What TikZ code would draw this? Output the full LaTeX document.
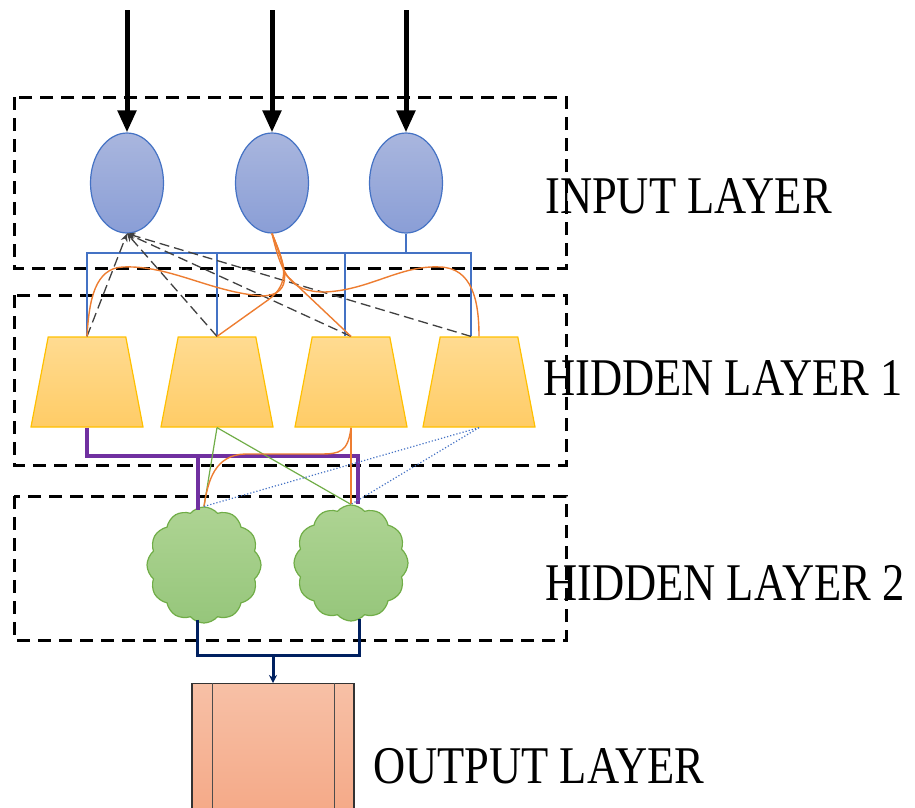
\documentclass[tikz,border=0pt]{standalone}
\usepackage{fontspec}
\newfontfamily\labelfont[FakeStretch=0.84]{Liberation Serif}
\usetikzlibrary{shapes.geometric,shapes.symbols,arrows.meta,calc}
\definecolor{inblue}{HTML}{4472C4}
\definecolor{intop}{HTML}{A9B6DE}
\definecolor{inbot}{HTML}{8A9ED6}
\definecolor{hidgold}{HTML}{FFC000}
\definecolor{hidtop}{HTML}{FFDB91}
\definecolor{hidbot}{HTML}{FFCC66}
\definecolor{cldgreen}{HTML}{70AD47}
\definecolor{cldtop}{HTML}{AED493}
\definecolor{cldbot}{HTML}{96C67B}
\definecolor{outtop}{HTML}{F7C0A6}
\definecolor{outbot}{HTML}{F4A27E}
\definecolor{linkorange}{HTML}{ED7D31}
\definecolor{linkpurple}{HTML}{7030A0}
\definecolor{linknavy}{HTML}{002060}

\begin{document}
\begin{tikzpicture}[x=1pt,y=-1pt,
  layerbox/.style={draw=black,line width=3pt,dash pattern=on 13pt off 8pt},
  inneuron/.style={ellipse,draw=inblue,line width=1.2pt,top color=intop,bottom color=inbot,minimum width=73pt,minimum height=100pt,inner sep=0pt},
  hidneuron/.style={trapezium,trapezium stretches=true,trapezium angle=77.5,draw=hidgold,line width=1.2pt,top color=hidtop,bottom color=hidbot,minimum width=112pt,minimum height=90pt,inner sep=2pt},
  cldneuron/.style={cloud,cloud puffs=12,cloud puff arc=100,aspect=1,draw=cldgreen,line width=1.2pt,top color=cldtop,bottom color=cldbot,minimum width=114pt,minimum height=116pt,inner sep=0pt},
  outbox/.style={rectangle,draw=black!80,line width=1.2pt,top color=outtop,bottom color=outbot,minimum width=162pt,minimum height=170pt,inner sep=0pt},
  layerlabel/.style={anchor=base west,inner sep=0pt,font=\labelfont\fontsize{53}{60}\selectfont},
  inarrow/.style={line width=5pt,-{Triangle[length=22pt,width=18pt]}},
  bluelink/.style={draw=inblue,line width=1.2pt},
  dashlink/.style={draw=black!75,line width=1.3pt,dash pattern=on 10pt off 5pt,-{Stealth[length=8pt,width=7pt,open]}},
  orangelink/.style={draw=linkorange,line width=1.4pt},
  greenlink/.style={draw=cldgreen,line width=1.2pt},
  dotlink/.style={draw=inblue,line width=1.2pt,dotted},
  purplelink/.style={draw=linkpurple,line width=3.2pt},
  navylink/.style={draw=linknavy,line width=3pt}]
\useasboundingbox (0,0) rectangle (915,807);
\clip (0,0) rectangle (915,807);

\draw[layerbox] (14,97) rectangle (566,268);
\draw[layerbox] (14,295) rectangle (566,465);
\draw[layerbox] (14,496) rectangle (566,640);

\node[inneuron] (i1) at (127,183) {}; \node[inneuron] (i2) at (272,183) {}; \node[inneuron] (i3) at (406,183) {};
\node[hidneuron] (h1) at (87,382) {}; \node[hidneuron] (h2) at (217,382) {}; \node[hidneuron] (h3) at (351,382) {}; \node[hidneuron] (h4) at (479,382) {};
\node[cldneuron] (c1) at (204,565) {}; \node[cldneuron] (c2) at (351,563) {};
\node[outbox,anchor=north] (out) at (273,683) {};
\draw[black!70,line width=1.5pt] ($(out.north west)+(21,0)$) -- ($(out.south west)+(21,0)$);
\draw[black!70,line width=1.5pt] ($(out.north east)+(-20,0)$) -- ($(out.south east)+(-20,0)$);

\coordinate (a1) at (127,10); \coordinate (a2) at (272,10); \coordinate (a3) at (406,10);
\coordinate (busin) at (0,253); \coordinate (bushid) at (0,456); \coordinate (busout) at (0,655);
\coordinate (t3) at ($(h3.north)+(-6,0)$); \coordinate (t4) at ($(h4.north)+(-8,0)$);
\coordinate (p1) at ($(c1.north)+(-6,4)$); \coordinate (p2) at ($(c2.north)+(7,0)$);
\coordinate (n1) at ($(c1.south)+(-7,-4)$); \coordinate (n2) at ($(c2.south)+(8,-3)$);
\draw[inarrow] (a1) -- (i1.north); \draw[inarrow] (a2) -- (i2.north); \draw[inarrow] (a3) -- (i3.north);

\draw[bluelink] (i3.south) -- (i3.south |- busin);
\draw[bluelink] (h1.north) -- (h1.north |- busin) -- (t4 |- busin) -- (t4);
\draw[bluelink] (h2.north) -- (h2.north |- busin); \draw[bluelink] (t3) -- (t3 |- busin);

\draw[dashlink] (h1.north) -- (i1.south); \draw[dashlink] (h2.north) -- (i1.south);
\draw[dashlink] (h3.north) -- (i1.south); \draw[dashlink] (t4) -- (i1.south);

\draw[orangelink] (i2.south) .. controls (285,265) and (296,295) .. (262,296) .. controls (210,292) and (170,265) .. (123,267) .. controls (95,268) and (89,300) .. (h1.north);
\draw[orangelink] (i2.south) .. controls (284,262) and (292,283) .. (268,300) -- (h2.north);
\draw[orangelink] (i2.south) .. controls (280,255) .. (285,274) -- (h3.north);
\draw[orangelink] (i2.south) .. controls (282,275) and (290,292) .. (325,292) .. controls (370,290) and (400,265) .. (440,267) .. controls (472,268) and (479,300) .. (h4.north);

\draw[purplelink] (h1.south) -- (h1.south |- bushid) -- (p2 |- bushid) -- (p2);
\draw[purplelink] (p1 |- bushid) -- (p1);
\draw[greenlink] (h2.south) -- (c1.north); \draw[greenlink] (h2.south) -- (c2.north);
\draw[orangelink] (h3.south) .. controls (348,452) and (340,454) .. (320,454) -- (245,454) .. controls (215,455) and (208,480) .. (c1.north);
\draw[orangelink] (h3.south) -- (c2.north);
\draw[dotlink] (h4.south) -- (c1.north); \draw[dotlink] (h4.south) -- (c2.north);

\draw[navylink] (n1) -- (n1 |- busout) -- (n2 |- busout) -- (n2);
\draw[navylink,-{Stealth[length=8pt,width=8pt]}] (out.north |- busout) -- (out.north);

\node[layerlabel] (lin) at (545,213) {INPUT LAYER};
\node[layerlabel] (lh1) at (543,395) {HIDDEN LAYER 1};
\node[layerlabel] (lh2) at (545,600) {HIDDEN LAYER 2};
\node[layerlabel] (lout) at (373,783) {OUTPUT LAYER};
\end{tikzpicture}
\end{document}
